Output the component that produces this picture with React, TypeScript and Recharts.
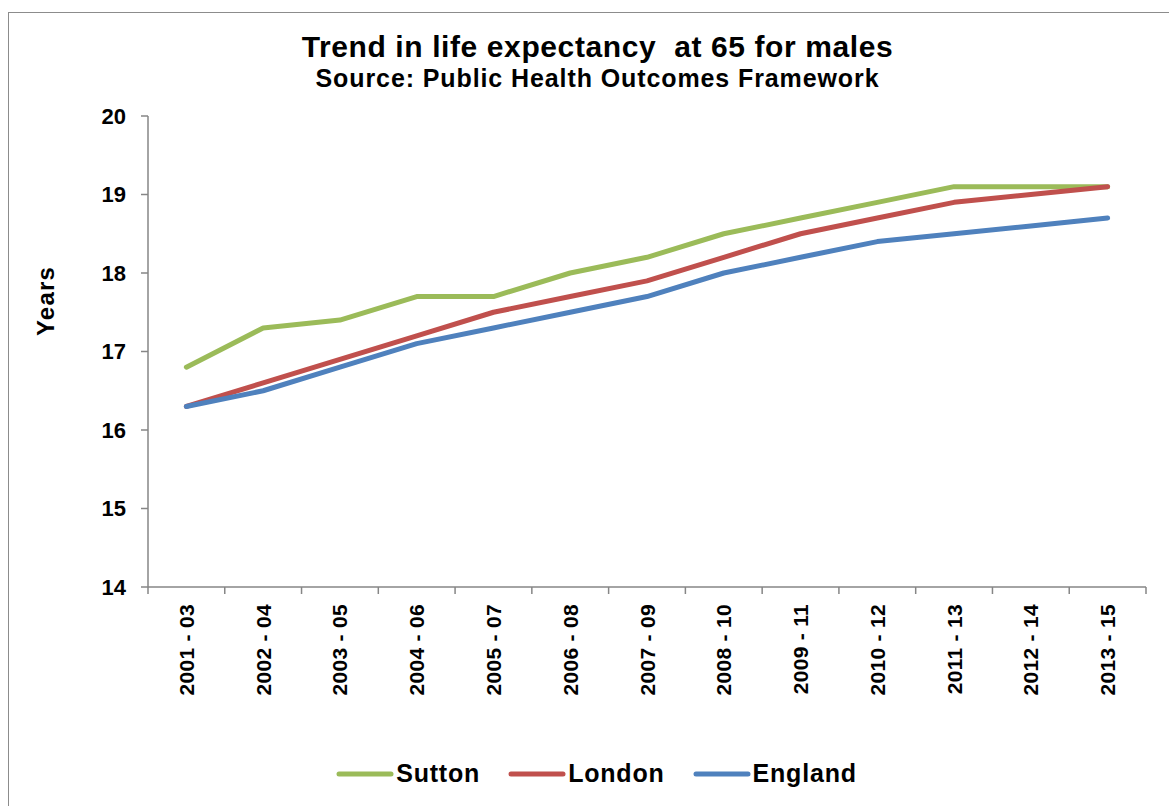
import React from 'react';
import { LineChart, Line, XAxis, YAxis, Legend } from 'recharts';

// ── Data ────────────────────────────────────────────────────────────────────

const periods = [
  '2001 - 03', '2002 - 04', '2003 - 05', '2004 - 06', '2005 - 07', '2006 - 08', '2007 - 09',
  '2008 - 10', '2009 - 11', '2010 - 12', '2011 - 13', '2012 - 14', '2013 - 15',
];
const sutton = [16.8, 17.3, 17.4, 17.7, 17.7, 18.0, 18.2, 18.5, 18.7, 18.9, 19.1, 19.1, 19.1];
const london = [16.3, 16.6, 16.9, 17.2, 17.5, 17.7, 17.9, 18.2, 18.5, 18.7, 18.9, 19.0, 19.1];
const england = [16.3, 16.5, 16.8, 17.1, 17.3, 17.5, 17.7, 18.0, 18.2, 18.4, 18.5, 18.6, 18.7];
const yTicks = [14, 15, 16, 17, 18, 19, 20];

const SERIES = [
  { key: 'sutton', name: 'Sutton', color: '#9BBB59' },
  { key: 'london', name: 'London', color: '#C0504D' },
  { key: 'england', name: 'England', color: '#4F81BD' },
];

const FONT = '"Liberation Sans", Arial, sans-serif';
const AXIS_GREY = '#868686';

const rows = periods.map((p, i) => ({
  idx: i,
  period: p,
  sutton: sutton[i],
  london: london[i],
  england: england[i],
}));

// category centres get labels, half-steps get tick marks (Excel "between categories")
const xTicks = periods.flatMap((_, i) => [i - 0.5, i]).concat(periods.length - 0.5);

// ── Custom ticks / legend ─────────────────────────────────────────────────────

function XTick({ x, y, payload }: { x?: number; y?: number; payload?: { value: number } }) {
  const v = payload?.value ?? 0;
  if (!Number.isInteger(v)) {
    return <line x1={x} x2={x} y1={y} y2={(y ?? 0) + 7} stroke={AXIS_GREY} strokeWidth={1.5} />;
  }
  const ty = (y ?? 0) + 17;
  return (
    <text
      x={x}
      y={ty}
      transform={`rotate(-90, ${x}, ${ty})`}
      textAnchor="end"
      dy="0.36em"
      fontFamily={FONT}
      fontWeight="bold"
      fontSize={21}
      letterSpacing={0.3}
      fill="#000"
    >
      {periods[v]}
    </text>
  );
}

function LegendContent() {
  return (
    <div style={{ display: 'flex', justifyContent: 'center', alignItems: 'center', fontFamily: FONT, paddingLeft: 24 }}>
      {SERIES.map((s) => (
        <div key={s.key} style={{ display: 'flex', alignItems: 'center', margin: '0 14px' }}>
          <svg width={58} height={10}>
            <line x1={3} x2={55} y1={5} y2={5} stroke={s.color} strokeWidth={5} strokeLinecap="round" />
          </svg>
          <span style={{ fontWeight: 'bold', fontSize: 25, letterSpacing: 0.8, marginLeft: 2 }}>{s.name}</span>
        </div>
      ))}
    </div>
  );
}

// ── Component ─────────────────────────────────────────────────────────────────

export default function App() {
  return (
    <div style={{ position: 'absolute', left: 0, top: 0, width: 1169, height: 806, background: '#fff', overflow: 'hidden' }}>
      {/* chart frame */}
      <div
        style={{
          position: 'absolute', left: 8, top: 12, width: 1200, height: 820,
          borderLeft: '1.5px solid #8c8c8c', borderTop: '1.5px solid #8c8c8c',
        }}
      />
      <div style={{ position: 'absolute', left: 0, top: 32, width: 1195, textAlign: 'center', fontFamily: FONT, fontWeight: 'bold', lineHeight: 1 }}>
        <div style={{ fontSize: 30, letterSpacing: 0.6 }}>Trend in life expectancy&nbsp; at 65 for males</div>
        <div style={{ fontSize: 25, letterSpacing: 0.9, marginTop: 4 }}>Source: Public Health Outcomes Framework</div>
      </div>
      <div
        style={{
          position: 'absolute', left: 46, top: 301, transform: 'translate(-50%, -50%) rotate(-90deg)',
          fontFamily: FONT, fontWeight: 'bold', fontSize: 24, letterSpacing: 1.2, whiteSpace: 'nowrap',
        }}
      >
        Years
      </div>
      <div style={{ position: 'absolute', left: 0, top: 0 }}>
        <LineChart width={1169} height={806} data={rows} margin={{ top: 116, right: 23, left: 88, bottom: 99 }}>
          <XAxis
            type="number"
            dataKey="idx"
            domain={[-0.5, periods.length - 0.5]}
            ticks={xTicks}
            interval={0}
            tickLine={false}
            tickSize={0}
            tickMargin={0}
            height={120}
            axisLine={{ stroke: AXIS_GREY, strokeWidth: 1.5 }}
            tick={<XTick />}
          />
          <YAxis
            type="number"
            domain={[14, 20]}
            ticks={yTicks}
            interval={0}
            width={60}
            tickSize={7}
            tickMargin={15}
            axisLine={{ stroke: AXIS_GREY, strokeWidth: 1.5 }}
            tickLine={{ stroke: AXIS_GREY, strokeWidth: 1.5 }}
            tick={{ fontFamily: FONT, fontWeight: 'bold', fontSize: 22, fill: '#000' }}
          />
          {SERIES.map((s) => (
            <Line
              key={s.key}
              dataKey={s.key}
              name={s.name}
              stroke={s.color}
              strokeWidth={5}
              strokeLinecap="round"
              strokeLinejoin="round"
              dot={false}
              activeDot={false}
              isAnimationActive={false}
            />
          ))}
          <Legend
            layout="vertical"
            align="center"
            verticalAlign="middle"
            content={<LegendContent />}
            wrapperStyle={{ top: 759, left: 0, width: 1169 }}
          />
        </LineChart>
      </div>
    </div>
  );
}
